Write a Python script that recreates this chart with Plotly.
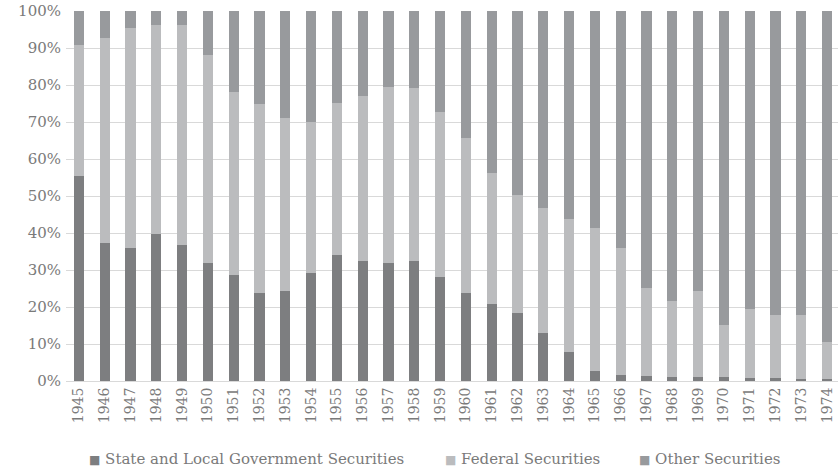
import plotly.graph_objects as go

# Composition of holdings by year (percent of total)
years = [str(y) for y in range(1945, 1975)]

state_local = [55.5, 37.4, 35.9, 39.6, 36.8, 32.0, 28.6, 23.9, 24.3, 29.3,
               34.0, 32.5, 32.0, 32.3, 28.2, 23.8, 20.8, 18.4, 13.1, 7.8,
               2.7, 1.6, 1.35, 1.2, 1.1, 1.0, 0.9, 0.7, 0.6, 0.6]

federal = [35.4, 55.4, 59.5, 56.7, 59.3, 56.2, 49.5, 51.0, 46.9, 40.7,
           41.1, 44.5, 47.5, 46.8, 44.5, 41.9, 35.5, 31.9, 33.7, 36.0,
           38.7, 34.3, 23.75, 20.4, 23.3, 14.2, 18.6, 17.1, 17.2, 10.0]

other = [9.1, 7.2, 4.6, 3.7, 3.9, 11.8, 21.9, 25.1, 28.8, 30.0,
         24.9, 23.0, 20.5, 20.9, 27.3, 34.3, 43.7, 49.7, 53.2, 56.2,
         58.6, 64.1, 74.9, 78.4, 75.6, 84.8, 80.5, 82.2, 82.2, 89.4]

series_names = ["State and Local Government Securities", "Federal Securities", "Other Securities"]
series_values = [state_local, federal, other]
series_colors = ["#7d7e80", "#bbbcbe", "#989a9d"]

text_color = "#7a7a7a"
font_family = "DejaVu Serif"

fig = go.Figure()
for name, vals, color in zip(series_names, series_values, series_colors):
    fig.add_trace(go.Bar(
        x=years, y=vals, name=name,
        marker=dict(color=color, line=dict(width=0)),
        width=0.39,
        showlegend=False,
    ))

# Legend row below the axis: small colour square followed by the series name
legend_x = [0.0272, 0.4883, 0.7397]
for name, color, lx in zip(series_names, series_colors, legend_x):
    fig.add_annotation(
        xref="paper", yref="paper", x=lx, y=-0.211,
        xanchor="left", yanchor="middle", showarrow=False,
        text=f"<span style='color:{color};font-size:12px'>■</span> {name}",
        font=dict(size=15, color=text_color, family=font_family),
    )

plot_w = 838 - 66
fig.update_layout(
    width=838, height=473,
    barmode="stack",
    margin=dict(l=66, r=0, t=11, b=92),
    paper_bgcolor="white", plot_bgcolor="white",
    font=dict(family=font_family, color=text_color),
    showlegend=False,
    xaxis=dict(
        type="category",
        range=[-0.5, -0.5 + plot_w / 25.8],
        tickangle=-90,
        tickfont=dict(size=14, color=text_color),
        showgrid=False,
        showline=True, linecolor="#d9d9d9", linewidth=1,
        ticks="",
    ),
    yaxis=dict(
        range=[0, 100],
        tickvals=[0, 10, 20, 30, 40, 50, 60, 70, 80, 90, 100],
        ticktext=["0%", "10%", "20%", "30%", "40%", "50%", "60%", "70%", "80%", "90%", "100%"],
        tickfont=dict(size=15, color=text_color),
        showgrid=True, gridcolor="#d9d9d9", gridwidth=1,
        zeroline=False,
        ticks="", ticklabelstandoff=4,
    ),
)

fig.write_html("out.html")
